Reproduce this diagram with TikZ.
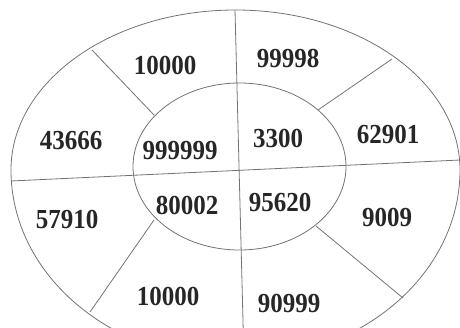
\documentclass[tikz,border=0pt]{standalone}
\usepackage{fontspec}
\setmainfont{Liberation Serif}
\begin{document}
\begin{tikzpicture}[x=1pt,y=1pt,
  ring/.style={draw=black!55,line width=0.8pt},
  num/.style={inner sep=0pt,font=\fontsize{25}{25}\selectfont\bfseries,text=black!85,yscale=1.1}]
\useasboundingbox (0,0) rectangle (460,327);
\clip (0,0) rectangle (460,327);
% centres
\coordinate (oc) at (235.5,157);
\coordinate (ic) at (239.5,160.5);
% outer egg-shaped ellipse
\draw[ring] (460,157) arc[start angle=0,end angle=180,x radius=224.5pt,y radius=160pt]
  arc[start angle=180,end angle=360,x radius=224.5pt,y radius=190pt];
% inner ellipse
\draw[ring] (ic) ellipse[x radius=106.5pt,y radius=83.5pt];
% main dividing lines
\coordinate (vtop) at (235,317);
\coordinate (vbot) at (244,-33);
\coordinate (hl) at (11,146);
\coordinate (hr) at (460,167);
\draw[ring] (vtop) -- (vbot);
\draw[ring] (hl) -- (hr);
% spokes
\coordinate (tlo) at (92,277);  \coordinate (tli) at (154,212);
\coordinate (tro) at (392,268); \coordinate (tri) at (318,217);
\coordinate (blo) at (90,15);   \coordinate (bli) at (154,107);
\coordinate (bro) at (403,29);  \coordinate (bri) at (316,101);
\draw[ring] (tli) -- (tlo);
\draw[ring] (tri) -- (tro);
\draw[ring] (bli) -- (blo);
\draw[ring] (bri) -- (bro);
% labels
\node[num] (a1) at (165,262) {10000};
\node[num] (a2) at (71,186) {43666};
\node[num] (a3) at (180,176) {999999};
\node[num] (a4) at (288,269) {99998};
\node[num] (a5) at (278,189) {3300};
\node[num] (a6) at (388,193) {62901};
\node[num] (a7) at (67,108) {57910};
\node[num] (a8) at (187,122) {80002};
\node[num] (a9) at (168,31) {10000};
\node[num] (a10) at (280,125) {95620};
\node[num] (a11) at (387,110) {9009};
\node[num] (a12) at (289,24) {90999};
\end{tikzpicture}
\end{document}
